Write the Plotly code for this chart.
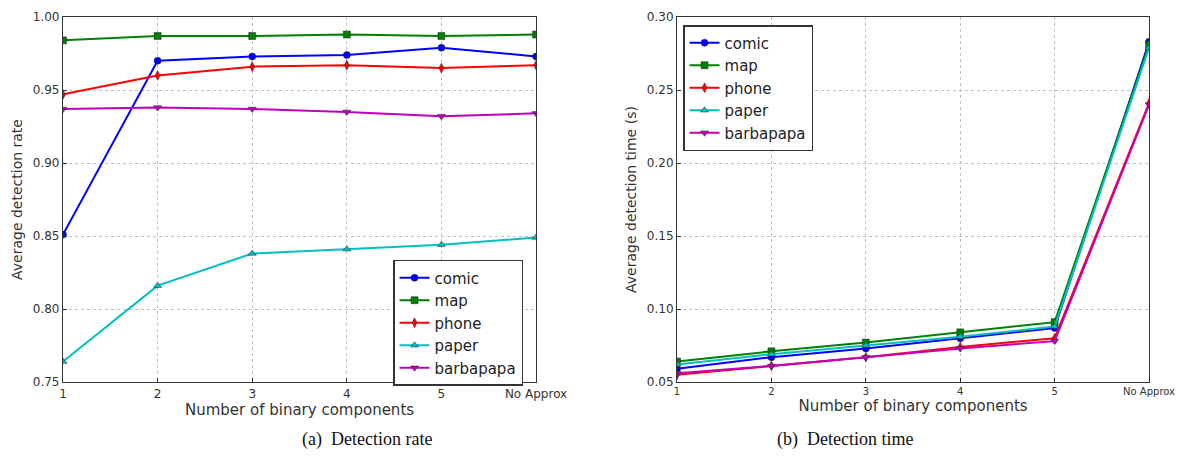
import plotly.graph_objects as go

categories = ["1", "2", "3", "4", "5", "No Approx"]
series_names = ["comic", "map", "phone", "paper", "barbapapa"]

rate_comic = [0.851, 0.970, 0.973, 0.974, 0.979, 0.973]
rate_map = [0.984, 0.987, 0.987, 0.988, 0.987, 0.988]
rate_phone = [0.947, 0.960, 0.966, 0.967, 0.965, 0.967]
rate_paper = [0.764, 0.816, 0.838, 0.841, 0.844, 0.849]
rate_barbapapa = [0.937, 0.938, 0.937, 0.935, 0.932, 0.934]

time_comic = [0.059, 0.067, 0.073, 0.080, 0.087, 0.283]
time_map = [0.064, 0.071, 0.077, 0.084, 0.091, 0.281]
time_phone = [0.055, 0.061, 0.067, 0.074, 0.080, 0.241]
time_paper = [0.062, 0.069, 0.075, 0.081, 0.088, 0.279]
time_barbapapa = [0.056, 0.061, 0.067, 0.073, 0.078, 0.240]

rate_data = [rate_comic, rate_map, rate_phone, rate_paper, rate_barbapapa]
time_data = [time_comic, time_map, time_phone, time_paper, time_barbapapa]

colors = ["#0000ff", "#008000", "#ff0000", "#00bfbf", "#bf00bf"]
symbols = ["circle", "square", "diamond-tall", "triangle-up", "triangle-down"]

fig = go.Figure()
for i, name in enumerate(series_names):
    fig.add_trace(go.Scatter(
        x=categories, y=rate_data[i], name=name, mode="lines+markers",
        line=dict(color=colors[i], width=2),
        marker=dict(symbol=symbols[i], size=7, color=colors[i], line=dict(color="#222", width=0.5)),
        xaxis="x", yaxis="y", legend="legend"))
for i, name in enumerate(series_names):
    fig.add_trace(go.Scatter(
        x=categories, y=time_data[i], name=name, mode="lines+markers",
        line=dict(color=colors[i], width=2),
        marker=dict(symbol=symbols[i], size=7, color=colors[i], line=dict(color="#222", width=0.5)),
        xaxis="x2", yaxis="y2", legend="legend2"))

font_family = "DejaVu Sans"
axis_common = dict(
    showline=True, linecolor="#333", linewidth=1.2, mirror=True,
    ticks="inside", ticklen=4, tickcolor="#333",
    showgrid=True, gridcolor="#c0c0c0", griddash="dot", gridwidth=1,
    zeroline=False, automargin=False,
)
tick12 = dict(family=font_family, size=12, color="#333")
tick10 = dict(family=font_family, size=10, color="#333")

ydom = [0.178, 0.9802]
fig.update_layout(
    width=1175, height=455,
    margin=dict(l=0, r=0, t=0, b=0),
    paper_bgcolor="white", plot_bgcolor="white",
    font=dict(family=font_family, color="#333"),
    xaxis=dict(domain=[0.0468, 0.4494], anchor="y", type="category", range=[0, 5], tickfont=tick12,
               title=dict(text="Number of binary components", standoff=2,
                          font=dict(family=font_family, size=15, color="#333")), **axis_common),
    yaxis=dict(domain=ydom, anchor="x", range=[0.75, 1.0], dtick=0.05, tickformat=".2f", tickfont=tick12,
               title=dict(text="Average detection rate", standoff=6,
                          font=dict(family=font_family, size=14, color="#333")), **axis_common),
    xaxis2=dict(domain=[0.5694, 0.9711], anchor="y2", type="category", range=[0, 5], tickfont=tick10,
                title=dict(text="Number of binary components", standoff=4,
                           font=dict(family=font_family, size=15, color="#333")), **axis_common),
    yaxis2=dict(domain=ydom, anchor="x2", range=[0.05, 0.30], dtick=0.05, tickformat=".2f", tickfont=tick12,
                title=dict(text="Average detection time (s)", standoff=6,
                           font=dict(family=font_family, size=14, color="#333")), **axis_common),
    legend=dict(x=0.3277, y=0.4462, xanchor="left", yanchor="top",
                bordercolor="#333", borderwidth=1.5, bgcolor="white",
                font=dict(family=font_family, size=15, color="#222"), tracegroupgap=0),
    legend2=dict(x=0.5745, y=0.9626, xanchor="left", yanchor="top",
                 bordercolor="#333", borderwidth=1.5, bgcolor="white",
                 font=dict(family=font_family, size=15, color="#222"), tracegroupgap=0),
    showlegend=True,
)

fig.add_annotation(text="(a)  Detection rate", x=0.2485, y=0.0242, xref="paper", yref="paper",
                   showarrow=False, font=dict(family="Liberation Serif", size=18, color="#111"))
fig.add_annotation(text="(b)  Detection time", x=0.7719, y=0.0242, xref="paper", yref="paper",
                   showarrow=False, font=dict(family="Liberation Serif", size=18, color="#111"))

fig.write_html("out.html")
